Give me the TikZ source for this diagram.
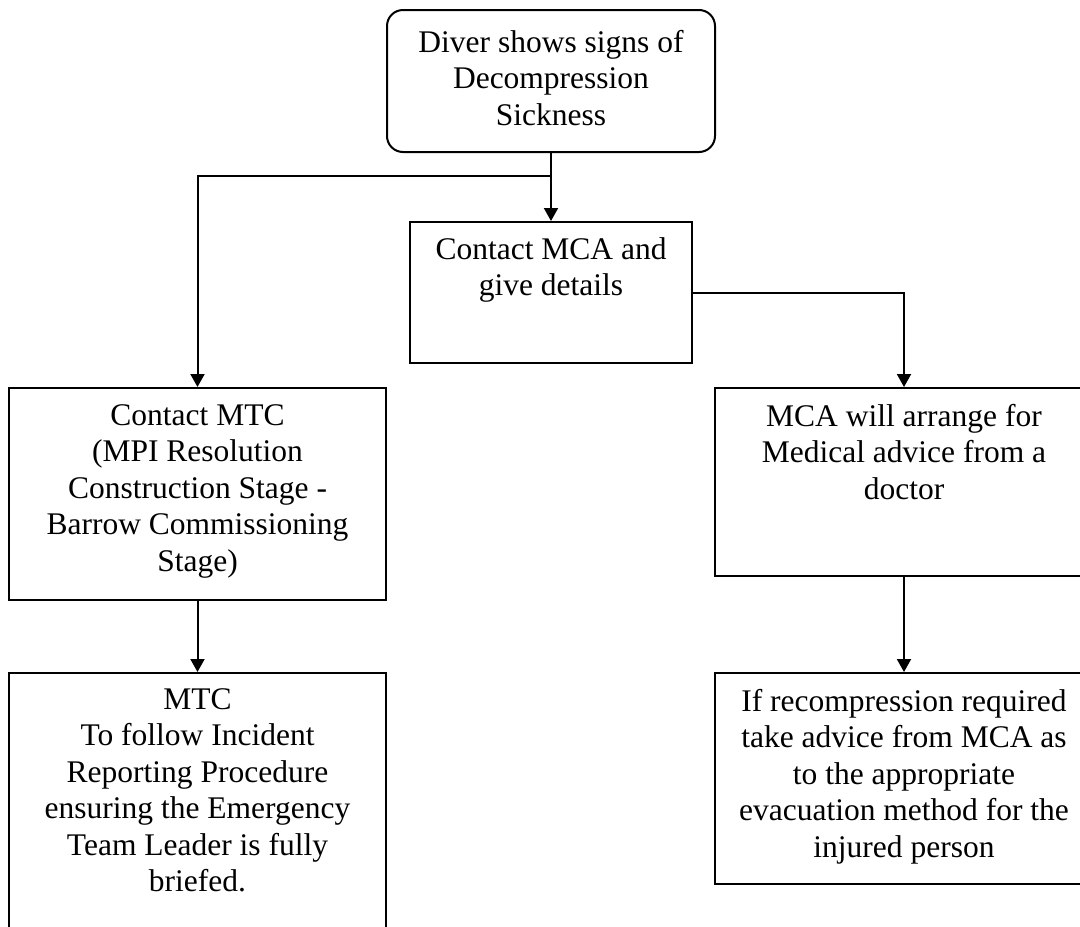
\documentclass[tikz,border=0pt]{standalone}
\usepackage{fontspec}
\setmainfont{Liberation Serif}
\usetikzlibrary{arrows.meta}
% centred block of lines whose reference point is the first baseline
\newcommand{\blocktext}[1]{\parbox[t]{380pt}{\centering #1}}
\begin{document}
\begin{tikzpicture}[x=1pt,y=-1pt,
    box/.style={draw=black, line width=2pt, rectangle, inner sep=0pt},
    rbox/.style={box, rounded corners=16pt},
    txt/.style={anchor=base, inner sep=0pt,
      font=\fontsize{31.5}{36.5}\selectfont},
    flow/.style={line width=2pt, -{Triangle[width=14pt,length=13pt]}}]
  \clip (0,0) rectangle (1080,927);
  \useasboundingbox (0,0) rectangle (1080,927);

  % boxes
  \node[rbox, minimum width=328pt, minimum height=142pt] (start) at (551,81) {};
  \node[box, minimum width=282pt, minimum height=141pt] (mca) at (551,292.5) {};
  \node[box, minimum width=377pt, minimum height=212pt] (mtc) at (197.5,494) {};
  \node[box, minimum width=378pt, minimum height=188pt] (med) at (904,482) {};
  \node[box, minimum width=377pt, minimum height=287pt] (report) at (197.5,816.5) {};
  \node[box, minimum width=378pt, minimum height=211pt] (recomp) at (904,778.5) {};

  % texts
  \node[txt] (startT) at ([yshift=-43pt]start.north) {\blocktext{Diver shows signs of\\Decompression\\Sickness}};
  \node[txt] (mcaT) at ([yshift=-38pt]mca.north) {\blocktext{Contact MCA and\\give details}};
  \node[txt] (mtcT) at ([yshift=-38pt]mtc.north) {\blocktext{Contact MTC\\(MPI Resolution\\Construction Stage -\\Barrow Commissioning\\Stage)}};
  \node[txt] (medT) at ([yshift=-39pt]med.north) {\blocktext{MCA will arrange for\\Medical advice from a\\doctor}};
  \node[txt] (reportT) at ([yshift=-37pt]report.north) {\blocktext{MTC\\To follow Incident\\Reporting Procedure\\ensuring the Emergency\\Team Leader is fully\\briefed.}};
  \node[txt] (recompT) at ([yshift=-39pt]recomp.north) {\blocktext{If recompression required\\take advice from MCA as\\to the appropriate\\evacuation method for the\\injured person}};

  % connectors
  \coordinate (split) at ([yshift=-23pt]start.south);
  \draw[flow] (start.south) -- (mca.north);
  \draw[flow] (split) -| (mtc.north);
  \draw[flow] (mca.east) -| (med.north);
  \draw[flow] (mtc.south) -- (report.north);
  \draw[flow] (med.south) -- (recomp.north);
\end{tikzpicture}
\end{document}
